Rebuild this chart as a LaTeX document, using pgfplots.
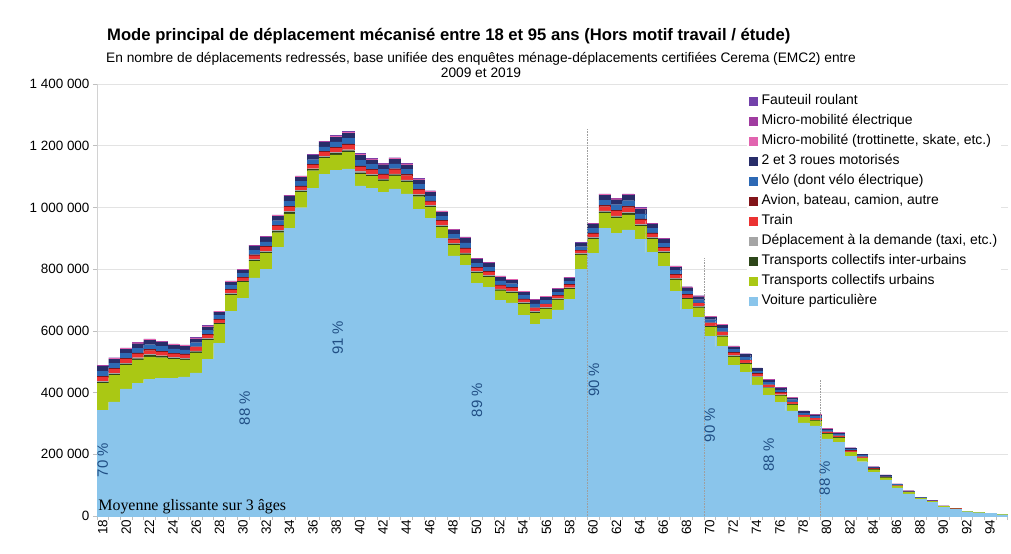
\documentclass[border=0pt]{standalone}
\usepackage{fontspec}
\setmainfont{Liberation Sans}
\newfontfamily\seriffont{Liberation Serif}
\usepackage{pgfplots}
\usepackage{pgfplotstable}
\pgfplotsset{compat=1.18}

\definecolor{cvp}{RGB}{138,197,235}
\definecolor{ctcu}{RGB}{170,200,20}
\definecolor{ctci}{RGB}{45,70,25}
\definecolor{cdad}{RGB}{165,165,165}
\definecolor{ctrain}{RGB}{235,50,50}
\definecolor{cavion}{RGB}{130,20,25}
\definecolor{cvelo}{RGB}{45,105,180}
\definecolor{cdeuxr}{RGB}{40,45,105}
\definecolor{cmicro}{RGB}{225,100,175}
\definecolor{cmicroe}{RGB}{160,60,160}
\definecolor{cfaut}{RGB}{115,65,170}
\definecolor{cpct}{RGB}{32,78,132}

\tikzset{pct/.style={rotate=90, text=cpct, font=\fontsize{15}{16}\selectfont}}

% values in thousands of trips
\pgfplotstableread{
age vp tcu tci dad train avion velo deuxr micro microe faut
18 343 87 4.1 3.0 13.0 3.5 15.9 14.8 2.4 1.2 1.2
19 370 85 4.1 2.9 12.8 3.5 15.7 14.5 2.3 1.2 1.2
20 412 77 3.9 2.8 12.3 3.4 15.1 14.0 2.2 1.1 1.1
21 430 76 4.0 2.9 12.5 3.4 15.4 14.3 2.3 1.1 1.1
22 443 73 4.1 2.9 12.8 3.5 15.7 14.5 2.3 1.2 1.2
23 446 67 3.8 2.7 11.9 3.2 14.6 13.5 2.2 1.1 1.1
24 446 62 3.5 2.5 11.0 3.0 13.5 12.5 2.0 1.0 1.0
25 451 55 3.4 2.4 10.6 2.9 13.0 12.0 1.9 1.0 1.0
26 464 65 3.4 2.5 10.8 2.9 13.2 12.3 2.0 1.0 1.0
27 508 62 3.3 2.4 10.3 2.8 12.7 11.8 1.9 0.9 0.9
28 560 61 3.0 2.2 9.5 2.6 11.6 10.8 1.7 0.9 0.9
29 664 52 3.2 2.3 10.1 2.8 12.4 11.5 1.8 0.9 0.9
30 705 52 3.0 2.2 9.5 2.6 11.6 10.8 1.7 0.9 0.9
31 772 54 3.6 2.6 11.4 3.1 14.0 13.0 2.1 1.0 1.0
32 800 51 3.9 2.8 12.3 3.4 15.1 14.0 2.2 1.1 1.1
33 871 47 4.1 2.9 12.8 3.5 15.7 14.5 2.3 1.2 1.2
34 932 47 4.3 3.1 13.4 3.7 16.5 15.3 2.4 1.2 1.2
35 999 49 3.8 2.7 11.9 3.2 14.6 13.5 2.2 1.1 1.1
36 1062 57 3.7 2.7 11.7 3.2 14.3 13.3 2.1 1.1 1.1
37 1108 51 3.9 2.8 12.3 3.4 15.1 14.0 2.2 1.1 1.1
38 1121 49 4.4 3.2 13.9 3.8 17.0 15.8 2.5 1.3 1.3
39 1125 54 4.7 3.4 14.7 4.0 18.1 16.8 2.7 1.3 1.3
40 1070 38 4.7 3.4 14.7 4.0 18.1 16.8 2.7 1.3 1.3
41 1062 38 4.1 3.0 13.0 3.5 15.9 14.8 2.4 1.2 1.2
42 1049 37 4.0 2.9 12.5 3.4 15.4 14.3 2.3 1.1 1.1
43 1060 42 4.1 3.0 13.0 3.5 15.9 14.8 2.4 1.2 1.2
44 1044 38 4.3 3.1 13.4 3.7 16.5 15.3 2.4 1.2 1.2
45 994 41 4.1 3.0 13.0 3.5 15.9 14.8 2.4 1.2 1.2
46 965 35 3.8 2.7 11.9 3.2 14.6 13.5 2.2 1.1 1.1
47 900 36 3.7 2.7 11.7 3.2 14.3 13.3 2.1 1.1 1.1
48 843 35 3.6 2.6 11.4 3.1 14.0 13.0 2.1 1.0 1.0
49 813 33 4.1 2.9 12.8 3.5 15.7 14.5 2.3 1.2 1.2
50 754 33 3.4 2.4 10.6 2.9 13.0 12.0 1.9 1.0 1.0
51 741 33 3.4 2.4 10.6 2.9 13.0 12.0 1.9 1.0 1.0
52 698 32 3.4 2.4 10.6 2.9 13.0 12.0 1.9 1.0 1.0
53 691 31 3.2 2.3 10.1 2.8 12.4 11.5 1.8 0.9 0.9
54 651 36 2.9 2.1 9.2 2.5 11.3 10.5 1.7 0.8 0.8
55 622 35 3.2 2.3 9.9 2.7 12.2 11.3 1.8 0.9 0.9
56 637 34 2.9 2.1 9.2 2.5 11.3 10.5 1.7 0.8 0.8
57 668 32 2.7 1.9 8.4 2.3 10.3 9.5 1.5 0.8 0.8
58 703 32 2.7 2.0 8.6 2.3 10.5 9.8 1.6 0.8 0.8
59 800 46 2.8 2.0 8.8 2.4 10.8 10.0 1.6 0.8 0.8
60 851 46 3.6 2.6 11.4 3.1 14.0 13.0 2.1 1.0 1.0
61 932 49 4.4 3.2 13.9 3.8 17.0 15.8 2.5 1.3 1.3
62 916 49 4.6 3.3 14.3 3.9 17.6 16.3 2.6 1.3 1.3
63 927 49 4.8 3.4 15.0 4.1 18.4 17.0 2.7 1.4 1.4
64 897 41 4.3 3.1 13.6 3.7 16.7 15.5 2.5 1.2 1.2
65 854 43 3.6 2.6 11.4 3.1 14.0 13.0 2.1 1.0 1.0
66 810 41 3.4 2.5 10.8 2.9 13.2 12.3 2.0 1.0 1.0
67 729 36 3.2 2.3 9.9 2.7 12.2 11.3 1.8 0.9 0.9
68 669 33 2.9 2.1 9.0 2.5 11.1 10.3 1.6 0.8 0.8
69 643 32 2.7 2.0 8.6 2.3 10.5 9.8 1.6 0.8 0.8
70 583 29 2.5 1.8 7.9 2.2 9.7 9.0 1.4 0.7 0.7
71 550 31 2.9 2.1 9.0 2.5 11.1 10.3 1.6 0.8 0.8
72 488 28 2.5 1.8 7.7 2.1 9.5 8.8 1.4 0.7 0.7
73 466 26 2.4 1.7 7.5 2.0 9.2 8.5 1.4 0.7 0.7
74 425 24 2.2 1.6 6.8 1.9 8.4 7.8 1.2 0.6 0.6
75 392 22 2.0 1.5 6.4 1.7 7.8 7.3 1.2 0.6 0.6
76 369 21 1.9 1.4 5.9 1.6 7.3 6.8 1.1 0.5 0.5
77 341 19 1.8 1.3 5.5 1.5 6.8 6.3 1.0 0.5 0.5
78 302 17 1.5 1.1 4.8 1.3 5.9 5.5 0.9 0.4 0.4
79 292 17 1.5 1.1 4.6 1.3 5.7 5.3 0.8 0.4 0.4
80 250 16 1.3 0.9 4.0 1.1 4.9 4.5 0.7 0.4 0.4
81 238 15 1.3 0.9 4.0 1.1 4.9 4.5 0.7 0.4 0.4
82 194 12 1.1 0.8 3.3 0.9 4.1 3.8 0.6 0.3 0.3
83 176 11 0.9 0.7 2.9 0.8 3.5 3.3 0.5 0.3 0.3
84 141 9 0.7 0.5 2.2 0.6 2.7 2.5 0.4 0.2 0.2
85 117 7 0.6 0.5 2.0 0.5 2.4 2.3 0.4 0.2 0.2
86 91.5 6 0.5 0.3 1.4 0.4 1.8 1.6 0.3 0.1 0.1
87 72 4.5 0.4 0.3 1.2 0.3 1.5 1.4 0.2 0.1 0.1
88 54 3.3 0.3 0.2 0.8 0.2 1.0 0.9 0.1 0.1 0.1
89 44 2.7 0.2 0.2 0.7 0.2 0.9 0.8 0.1 0.1 0.1
90 29 1.8 0.2 0.1 0.5 0.1 0.6 0.5 0.1 0.05 0.05
91 22 1.4 0.1 0.1 0.35 0.1 0.43 0.4 0.06 0.03 0.03
92 14 0.9 0.08 0.05 0.24 0.07 0.3 0.28 0.04 0.02 0.02
93 10.6 0.6 0.06 0.04 0.18 0.05 0.22 0.2 0.03 0.01 0.01
94 7.9 0.5 0.04 0.03 0.13 0.04 0.16 0.15 0.02 0.01 0.01
95 4.4 0.3 0.02 0.02 0.07 0.02 0.08 0.08 0.01 0.01 0.01
}\modedata

\pgfplotsset{
  frame/.style={at={(97bp,38bp)}, anchor=south west,
    scale only axis, width=910.5bp, height=432bp,
    xmin=17.5, xmax=95.5, ymin=0, ymax=1400, clip=false},
}

\begin{document}
\begin{tikzpicture}
\path[use as bounding box] (0,0) rectangle (1011bp,554bp);
\begin{axis}[
  frame,
  ybar stacked, bar width=1,
  xtick={17.5,18.5,...,95.5}, xticklabels={},
  extra x ticks={18,20,...,94},
  extra x tick labels={18,20,22,24,26,28,30,32,34,36,38,40,42,44,46,48,50,52,54,56,58,60,62,64,66,68,70,72,74,76,78,80,82,84,86,88,90,92,94},
  extra x tick style={major tick length=0pt,
     tick label style={rotate=90, anchor=east, font=\fontsize{13.5}{14}\selectfont}},
  ytick={0,200,...,1400},
  yticklabels={0,200 000,400 000,600 000,800 000,1 000 000,1 200 000,1 400 000},
  yticklabel style={font=\fontsize{13.5}{14}\selectfont},
  ymajorgrids, grid style={gray!22, line width=0.7bp},
  axis x line*=bottom, axis y line*=left,
  axis line style={gray!35, line width=0.6bp},
  tick align=outside, major tick length=4bp,
  tick style={gray!50, line width=0.5bp},
  legend style={at={(0.714,0.98)}, anchor=north west, draw=none, fill=white,
     font=\fontsize{14}{15}\selectfont, inner xsep=2bp, inner ysep=1bp,
     nodes={inner sep=1.5bp, text height=9.5bp, text depth=2.5bp},
     row sep=5bp,
     /tikz/every odd column/.append style={column sep=2.5bp}},
  legend cell align=left,
  reverse legend,
  legend image code/.code={\draw[#1] (0bp,-4bp) rectangle (8bp,4bp);},
]
\addplot[fill=cvp, draw=cvp, line width=0.25bp] table[x=age,y=vp]{\modedata};
\addlegendentry{Voiture particulière}
\addplot[fill=ctcu, draw=ctcu, line width=0.25bp] table[x=age,y=tcu]{\modedata};
\addlegendentry{Transports collectifs urbains}
\addplot[fill=ctci, draw=ctci, line width=0.25bp] table[x=age,y=tci]{\modedata};
\addlegendentry{Transports collectifs inter-urbains}
\addplot[fill=cdad, draw=cdad, line width=0.25bp] table[x=age,y=dad]{\modedata};
\addlegendentry{Déplacement à la demande (taxi, etc.)}
\addplot[fill=ctrain, draw=ctrain, line width=0.25bp] table[x=age,y=train]{\modedata};
\addlegendentry{Train}
\addplot[fill=cavion, draw=cavion, line width=0.25bp] table[x=age,y=avion]{\modedata};
\addlegendentry{Avion, bateau, camion, autre}
\addplot[fill=cvelo, draw=cvelo, line width=0.25bp] table[x=age,y=velo]{\modedata};
\addlegendentry{Vélo (dont vélo électrique)}
\addplot[fill=cdeuxr, draw=cdeuxr, line width=0.25bp] table[x=age,y=deuxr]{\modedata};
\addlegendentry{2 et 3 roues motorisés}
\addplot[fill=cmicro, draw=cmicro, line width=0.25bp] table[x=age,y=micro]{\modedata};
\addlegendentry{Micro-mobilité (trottinette, skate, etc.)}
\addplot[fill=cmicroe, draw=cmicroe, line width=0.25bp] table[x=age,y=microe]{\modedata};
\addlegendentry{Micro-mobilité électrique}
\addplot[fill=cfaut, draw=cfaut, line width=0.25bp] table[x=age,y=faut]{\modedata};
\addlegendentry{Fauteuil roulant}
\end{axis}

% annotation overlay (same frame, drawn on top of the stacked areas)
\begin{axis}[frame, hide axis]
\draw[gray!75, densely dotted, line width=0.6bp] (axis cs:59.5,0) -- (axis cs:59.5,1255);
\draw[gray!75, densely dotted, line width=0.6bp] (axis cs:69.5,0) -- (axis cs:69.5,835);
\draw[gray!75, densely dotted, line width=0.6bp] (axis cs:79.5,0) -- (axis cs:79.5,440);
\node[pct] at (axis cs:18.0,181) {70 \%};
\node[pct] at (axis cs:30.16,350) {88 \%};
\node[pct] at (axis cs:38.13,577) {91 \%};
\node[pct] at (axis cs:50.05,376) {89 \%};
\node[pct] at (axis cs:60.07,441) {90 \%};
\node[pct] at (axis cs:70.0,295) {90 \%};
\node[pct] at (axis cs:75.05,198) {88 \%};
\node[pct] at (axis cs:79.85,123) {88 \%};
\node[anchor=west, inner sep=0pt, font=\seriffont\fontsize{16}{17}\selectfont] at (axis cs:17.6,29) {Moyenne glissante sur 3 âges};
\end{axis}

\node[anchor=west, inner sep=0pt, font=\bfseries\fontsize{16.7}{18}\selectfont] at (107bp,518bp)
  {Mode principal de déplacement mécanisé entre 18 et 95 ans (Hors motif travail / étude)};
\node[align=center, inner sep=0pt, font=\fontsize{13.8}{16}\selectfont] at (481bp,489bp)
  {En nombre de déplacements redressés, base unifiée des enquêtes ménage-déplacements certifiées Cerema (EMC2) entre\\2009 et 2019};
\end{tikzpicture}
\end{document}
